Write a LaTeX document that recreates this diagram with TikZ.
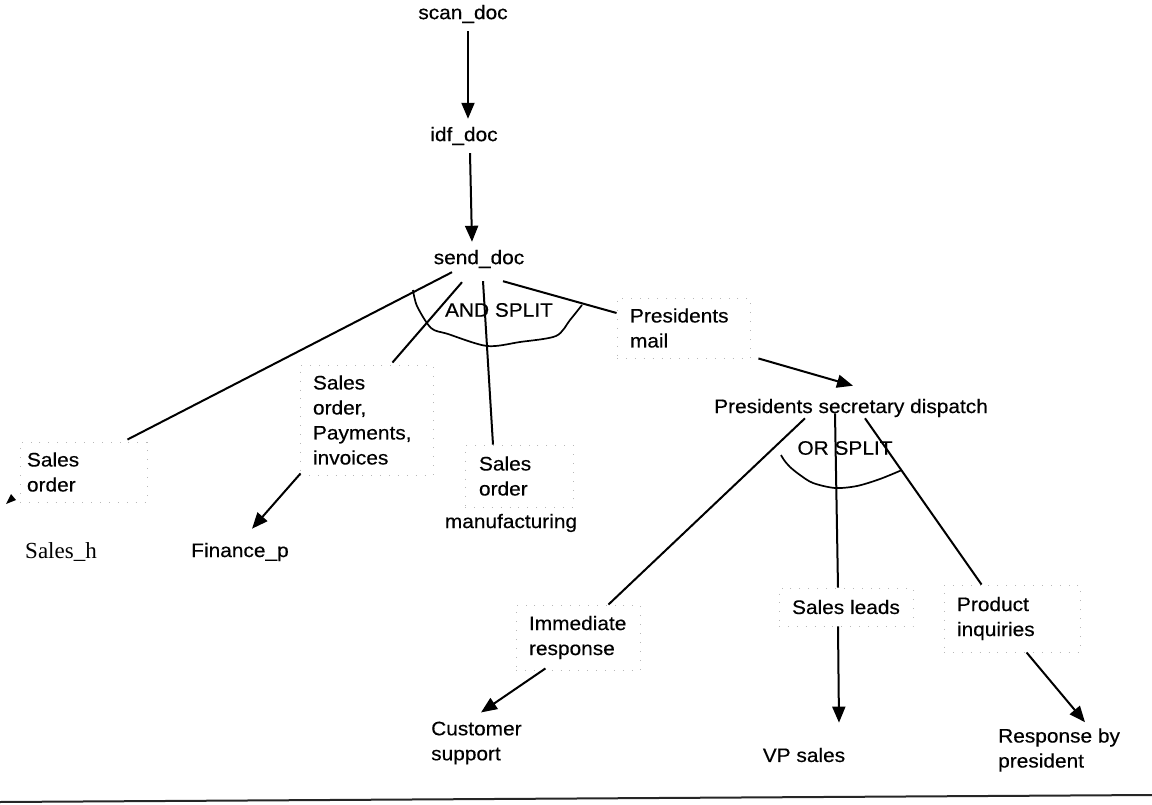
\documentclass[tikz,border=0pt]{standalone}
\usepackage{fontspec}
\setmainfont{Liberation Sans}[FakeStretch=1.07,FakeBold=0.4]
\newfontfamily\timesfont{Liberation Serif}
\usetikzlibrary{arrows.meta}
\begin{document}
\begin{tikzpicture}[x=1pt,y=-1pt,
  every node/.style={font=\fontsize{19.5}{25}\selectfont, inner sep=0pt},
  stepnode/.style={inner ysep=8pt},
  speck/.style={draw=black!28, line width=0.9pt, dash pattern=on 0.9pt off 8pt, align=left},
  link/.style={line width=2pt},
  flow/.style={line width=2pt, -{Triangle[length=16pt,width=13pt]}},
  splitarc/.style={line width=1.7pt, line join=round}]
\useasboundingbox (0,0) rectangle (1152,805);

% document pipeline
\node[stepnode] (scan) at (463,14) {scan\_doc};
\node[stepnode] (idf) at (464,136) {idf\_doc};
\node[stepnode] (send) at (479,259) {send\_doc};

% AND split branches
\node[speck, minimum width=127, minimum height=60, text width=113, inner xsep=7] (so) at (83.5,472) {Sales\\order};
\node[speck, minimum width=133, minimum height=110, text width=107, inner xsep=13] (sopi) at (366.5,420) {Sales\\order,\\Payments,\\invoices};
\node[speck, minimum width=108, minimum height=62, text width=80, inner xsep=14] (mid) at (519,476) {Sales\\order};
\node (manu) at (511,523) {manufacturing};
\node[speck, minimum width=133, minimum height=60, text width=107, inner xsep=13] (pm) at (683.5,328) {Presidents\\mail};
\node (andl) at (499,310) {AND SPLIT};

\node[font=\timesfont\fontsize{23}{27}\selectfont] (sh) at (61,552) {Sales\_h};
\node (fin) at (240,552) {Finance\_p};

% OR split branches
\node[anchor=west] (disp) at (714,408) {Presidents secretary dispatch};
\node (orl) at (845,448) {OR SPLIT};
\node[speck, minimum width=124, minimum height=65, text width=98, inner xsep=13] (imm) at (578,637.5) {Immediate\\response};
\node[speck, minimum width=134, minimum height=38] (sl) at (846,607) {Sales leads};
\node[speck, minimum width=136, minimum height=67, text width=110, inner xsep=13] (pi) at (1012,618.5) {Product\\inquiries};
\node[anchor=west, align=left] (cs) at (431,743) {Customer\\support};
\node (vp) at (804,755) {VP sales};
\node[anchor=west, align=left] (resp) at (998,750) {Response by\\president};

% connectors
\draw[flow] ([xshift=5pt]scan.south) -- ([xshift=4pt]idf.north);
\draw[flow] ([xshift=6pt]idf.south) -- ([xshift=-7pt]send.north);

\draw[link] ([xshift=-27pt,yshift=4pt]send.south) -- ([xshift=-20pt,yshift=2pt]so.north east);
\draw[link] ([xshift=-17pt,yshift=-6pt]send.south) -- ([xshift=-41pt,yshift=2pt]sopi.north east);
\draw[link] ([xshift=4pt,yshift=-5pt]send.south) -- ([xshift=-26pt]mid.north);
\draw[link] ([xshift=24pt,yshift=-5pt]send.south) -- ([yshift=15pt]pm.west);
\draw[flow] ([xshift=1pt,yshift=2pt]sopi.south west) -- ([xshift=12pt,yshift=14pt]fin.north);
\draw[flow] ([xshift=8pt]pm.south east) -- ([xshift=139pt,yshift=13pt]disp.north west);

\draw[link] ([xshift=91pt,yshift=-1pt]disp.south west) -- ([xshift=-32pt]imm.north east);
\draw[link] ([xshift=121pt,yshift=4pt]disp.south west) -- ([xshift=-8pt]sl.north);
\draw[link] ([xshift=151pt,yshift=-1pt]disp.south west) -- ([xshift=38pt]pi.north west);
\draw[flow] ([xshift=-95pt,yshift=2pt]imm.south east) -- ([xshift=50pt,yshift=9pt]cs.north west);
\draw[flow] ([xshift=-8pt]sl.south) -- ([xshift=35pt,yshift=25pt]vp.north);
\draw[flow] ([xshift=83pt]pi.south west) -- ([xshift=87pt,yshift=6pt]resp.north west);

% split arcs
\draw[splitarc] plot[smooth, tension=0.5] coordinates {(413,290) (417,306) (431,328) (448,334) (487,346) (520,342) (556,336) (570,320) (582,305)};
\draw[splitarc] plot[smooth, tension=0.5] coordinates {(781,455) (784,460) (790,467) (800,475) (813,483) (835,488) (857,486) (880,479) (902,470)};

% lone arrow head left of the Sales order box
\fill (6,504) -- (11,494) -- (16,500) -- cycle;

% page rule
\draw[line width=2pt, black!85] (0,802) -- (1152,795);
\end{tikzpicture}
\end{document}
